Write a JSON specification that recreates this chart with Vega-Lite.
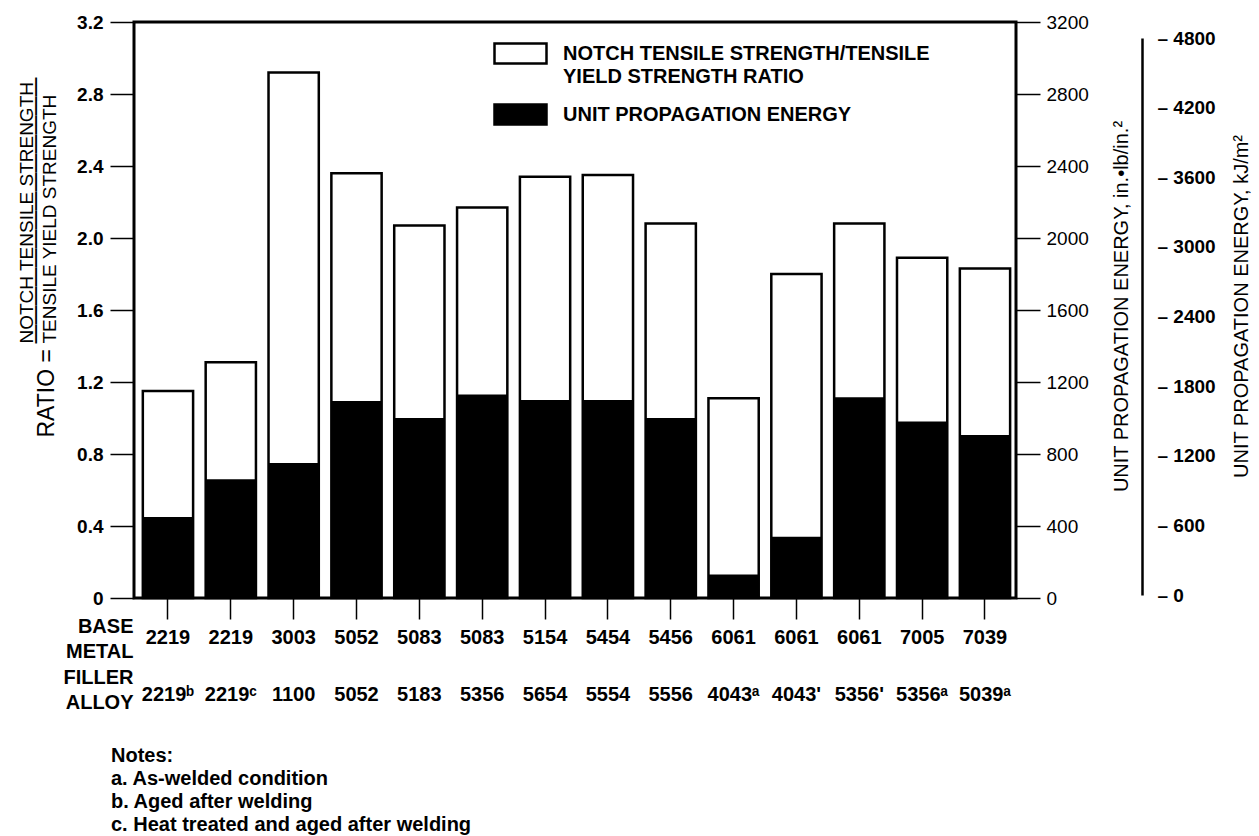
{
  "$schema": "https://vega.github.io/schema/vega-lite/v6.json",
  "autosize": {"type": "none"},
  "width": 882,
  "height": 576,
  "padding": {"left": 134, "top": 22, "right": 243, "bottom": 238},
  "background": "white",
  "title": {
    "text": ["Notes:", "a. As-welded condition", "b. Aged after welding", "c. Heat treated and aged after welding"],
    "orient": "bottom", "anchor": "start", "frame": "group", "offset": 33, "dx": -23,
    "font": "Liberation Sans", "fontSize": 20, "fontWeight": "bold", "lineHeight": 23,
    "align": "left", "baseline": "top", "color": "black"
  },
  "data": {"values": [
    {"pair": "2219|2219ᵇ", "ratio": 1.15, "energy": 450},
    {"pair": "2219|2219ᶜ", "ratio": 1.31, "energy": 660},
    {"pair": "3003|1100", "ratio": 2.92, "energy": 750},
    {"pair": "5052|5052", "ratio": 2.36, "energy": 1095},
    {"pair": "5083|5183", "ratio": 2.07, "energy": 1000},
    {"pair": "5083|5356", "ratio": 2.17, "energy": 1130},
    {"pair": "5154|5654", "ratio": 2.34, "energy": 1100},
    {"pair": "5454|5554", "ratio": 2.35, "energy": 1100},
    {"pair": "5456|5556", "ratio": 2.08, "energy": 1000},
    {"pair": "6061|4043ᵃ", "ratio": 1.11, "energy": 130},
    {"pair": "6061|4043'", "ratio": 1.80, "energy": 340},
    {"pair": "6061|5356'", "ratio": 2.08, "energy": 1115},
    {"pair": "7005|5356ᵃ", "ratio": 1.89, "energy": 980},
    {"pair": "7039|5039ᵃ", "ratio": 1.83, "energy": 905}
  ]},
  "encoding": {
    "x": {
      "field": "pair", "type": "nominal", "sort": null,
      "scale": {"paddingInner": 0.2, "paddingOuter": 0.117, "align": 0.6},
      "axis": {
        "orient": "bottom", "labelAngle": 0,
        "labelExpr": "split(datum.label, '|')",
        "labelFontSize": 20, "labelFontWeight": "bold", "labelLineHeight": 57,
        "labelBaseline": "top", "labelPadding": 8, "labelLimit": 300,
        "tickSize": 21, "tickWidth": 1.5, "domain": false,
        "title": ["BASE", "METAL", "FILLER", "ALLOY"],
        "titleX": -1, "titleY": 34, "titleAlign": "right", "titleBaseline": "alphabetic",
        "titleLineHeight": 25.5, "titleFontSize": 20, "titleFontWeight": "bold"
      }
    }
  },
  "layer": [
    {
      "mark": {"type": "bar", "stroke": "black", "strokeWidth": 2.5},
      "encoding": {
        "y": {
          "field": "ratio", "type": "quantitative",
          "scale": {"domain": [0, 3.2], "nice": false, "zero": true},
          "axis": {
            "orient": "left",
            "values": [0, 0.4, 0.8, 1.2, 1.6, 2.0, 2.4, 2.8, 3.2],
            "labelExpr": "datum.value == 0 ? '0' : format(datum.value, '.1f')",
            "labelFontSize": 19, "labelFontWeight": "bold", "labelPadding": 7,
            "tickSize": 24, "tickWidth": 1.5, "domain": false, "grid": false,
            "title": ["NOTCH TENSILE STRENGTH", "TENSILE YIELD STRENGTH"],
            "titleAngle": 270, "titleX": -102, "titleY": 321,
            "titleAlign": "left", "titleBaseline": "alphabetic",
            "titleFontSize": 19, "titleFontWeight": "normal", "titleLineHeight": 23
          }
        },
        "fill": {
          "datum": "NOTCH TENSILE STRENGTH/TENSILE|YIELD STRENGTH RATIO",
          "type": "nominal",
          "scale": {
            "domain": ["NOTCH TENSILE STRENGTH/TENSILE|YIELD STRENGTH RATIO", "UNIT PROPAGATION ENERGY"],
            "range": ["white", "black"]
          },
          "legend": {
            "orient": "none", "legendX": 359, "legendY": 4, "title": null,
            "padding": 0, "rowPadding": -22, "labelOffset": 15,
            "labelExpr": "split(datum.label, '|')",
            "labelFontSize": 20, "labelFontWeight": "bold",
            "labelLimit": 1000, "labelColor": "black",
            "symbolType": "M-1,-0.385H1V0.385H-1Z", "symbolSize": 2704,
            "symbolStrokeColor": "black", "symbolStrokeWidth": 2.5,
            "encode": {
              "symbols": {"update": {"stroke": {"value": "black"}, "strokeWidth": {"value": 2.5}}},
              "labels": {"update": {"lineHeight": {"value": 23}}}
            }
          }
        }
      }
    },
    {
      "mark": {"type": "bar"},
      "encoding": {
        "y": {
          "field": "energy", "type": "quantitative",
          "scale": {"domain": [0, 3200], "nice": false},
          "axis": {
            "orient": "right",
            "values": [0, 400, 800, 1200, 1600, 2000, 2400, 2800, 3200],
            "format": "d",
            "labelFontSize": 19, "labelFontWeight": "normal", "labelPadding": 6,
            "tickSize": 24, "tickWidth": 1.5, "domain": false, "grid": false,
            "title": "UNIT PROPAGATION ENERGY, in.•lb/in.²",
            "titleAngle": 270, "titleX": 111, "titleY": 284,
            "titleAlign": "center", "titleBaseline": "alphabetic",
            "titleFontSize": 20, "titleFontWeight": "normal"
          }
        },
        "fill": {"datum": "UNIT PROPAGATION ENERGY", "type": "nominal"}
      }
    },
    {
      "mark": {"type": "point", "opacity": 0},
      "encoding": {
        "y": {
          "field": "energy", "type": "quantitative",
          "scale": {"domain": [0, 4800], "nice": false, "rangeMin": 573, "rangeMax": 16},
          "axis": {
            "orient": "right", "offset": 126,
            "values": [0, 600, 1200, 1800, 2400, 3000, 3600, 4200, 4800],
            "labelExpr": "'– ' + datum.value",
            "labelFontSize": 19, "labelFontWeight": "bold", "labelPadding": 15,
            "ticks": false, "tickSize": 0, "domain": true, "domainColor": "black", "domainWidth": 2.5,
            "grid": false,
            "title": "UNIT PROPAGATION ENERGY, kJ/m²",
            "titleAngle": 270, "titleX": 105, "titleY": 284,
            "titleAlign": "center", "titleBaseline": "alphabetic",
            "titleFontSize": 20, "titleFontWeight": "normal"
          }
        }
      }
    },
    {
      "mark": {"type": "point", "opacity": 0},
      "encoding": {
        "y": {
          "field": "ratio", "type": "quantitative",
          "scale": {"domain": [0, 3.2], "nice": false},
          "axis": {
            "orient": "left", "labels": false, "ticks": false, "domain": false, "grid": false,
            "title": "RATIO =",
            "titleAngle": 270, "titleX": -81, "titleY": 415,
            "titleAlign": "left", "titleBaseline": "alphabetic",
            "titleFontSize": 23, "titleFontWeight": "normal"
          }
        }
      }
    },
    {
      "mark": {"type": "point", "opacity": 0},
      "encoding": {
        "y": {
          "field": "ratio", "type": "quantitative",
          "scale": {"domain": [0, 3.2], "nice": false},
          "axis": {
            "orient": "left", "labels": false, "ticks": false, "domain": false, "grid": false,
            "title": "——————————————",
            "titleAngle": 270, "titleX": -94, "titleY": 321,
            "titleAlign": "left", "titleBaseline": "alphabetic",
            "titleFontSize": 19, "titleFontWeight": "bold"
          }
        }
      }
    }
  ],
  "resolve": {"scale": {"y": "independent"}},
  "config": {
    "font": "Liberation Sans",
    "view": {"stroke": "black", "strokeWidth": 3},
    "axis": {
      "labelFont": "Liberation Sans", "titleFont": "Liberation Sans",
      "labelColor": "black", "titleColor": "black", "tickColor": "black",
      "domainColor": "black", "grid": false
    },
    "legend": {"labelFont": "Liberation Sans"}
  }
}
